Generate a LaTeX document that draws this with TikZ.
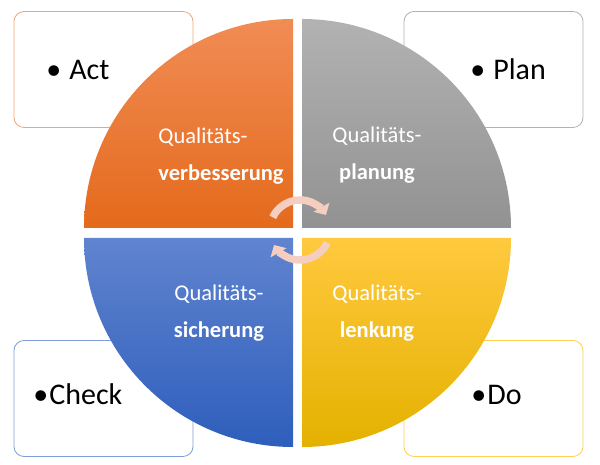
\documentclass[tikz,border=0pt]{standalone}
\usepackage{fontspec}
\setmainfont{Carlito}
\usetikzlibrary{arrows.meta}
\definecolor{orangetop}{RGB}{241,140,85}
\definecolor{orangebot}{RGB}{228,106,28}
\definecolor{graytop}{RGB}{178,178,178}
\definecolor{graybot}{RGB}{146,146,146}
\definecolor{bluetop}{RGB}{96,132,207}
\definecolor{bluebot}{RGB}{46,94,188}
\definecolor{yellowtop}{RGB}{255,201,62}
\definecolor{yellowbot}{RGB}{228,177,0}
\definecolor{actline}{RGB}{242,165,115}
\definecolor{planline}{RGB}{178,178,178}
\definecolor{checkline}{RGB}{125,158,218}
\definecolor{doline}{RGB}{255,208,85}
\definecolor{arrowpink}{RGB}{246,206,192}

\begin{document}
\begin{tikzpicture}[x=1pt, y=1pt, thick,
    box/.style={draw, fill=white, rounded corners=10pt, minimum width=179pt, minimum height=116pt, line width=0.8pt, inner sep=0pt},
    pdca/.style={font=\fontsize{30}{34}\selectfont, anchor=base west, inner sep=0pt},
    quarter/.style={text=white, font=\fontsize{22.5}{37}\selectfont, align=center, inner sep=0pt},
    turn/.style={line width=7.5pt, draw=arrowpink, -{Triangle[width=18pt,length=9pt]}}]
    \useasboundingbox (0,0) rectangle (600,465);
    % PDCA boxes
    \node[box, draw=actline] (act) at (103.5,395.5) {};
    \node[box, draw=planline] (plan) at (493.5,395.5) {};
    \node[box, draw=checkline] (check) at (103.5,66.5) {};
    \node[box, draw=doline] (do) at (493.5,66.5) {};
    % Quarter circles
    \shade[top color=orangetop, bottom color=orangebot] (293,237) -- (84,237) arc[start angle=180, end angle=90, radius=209] -- cycle;
    \shade[top color=graytop, bottom color=graybot] (302,237) -- (302,446) arc[start angle=90, end angle=0, radius=209] -- cycle;
    \shade[top color=bluetop, bottom color=bluebot] (293,227) -- (293,18) arc[start angle=270, end angle=180, radius=209] -- cycle;
    \shade[top color=yellowtop, bottom color=yellowbot] (302,227) -- (511,227) arc[start angle=0, end angle=-90, radius=209] -- cycle;
    % Box texts
    \node[pdca] (acttext) at (46,385) {•\hspace{8pt}Act};
    \node[pdca] (plantext) at (470,385) {•\hspace{8pt}Plan};
    \node[pdca] (checktext) at (33,60) {•\hspace{1pt}Check};
    \node[pdca] (dotext) at (471,60) {•\hspace{1pt}Do};
    % Quarter texts
    \node[quarter, align=left, anchor=north west] (improve) at (158,338) {Qualitäts-\\\textbf{verbesserung}};
    \node[quarter, anchor=north] (planning) at (377,339) {Qualitäts-\\\textbf{planung}};
    \node[quarter, anchor=north] (assurance) at (219,181) {Qualitäts-\\\textbf{sicherung}};
    \node[quarter, anchor=north] (control) at (377,181) {Qualitäts-\\\textbf{lenkung}};
    % Cycle arrows
    \draw[turn] (300,235) ++(155:30) arc[start angle=155, end angle=30, radius=30];
    \draw[turn] (300,235) ++(-25:30) arc[start angle=-25, end angle=-150, radius=30];
\end{tikzpicture}
\end{document}
